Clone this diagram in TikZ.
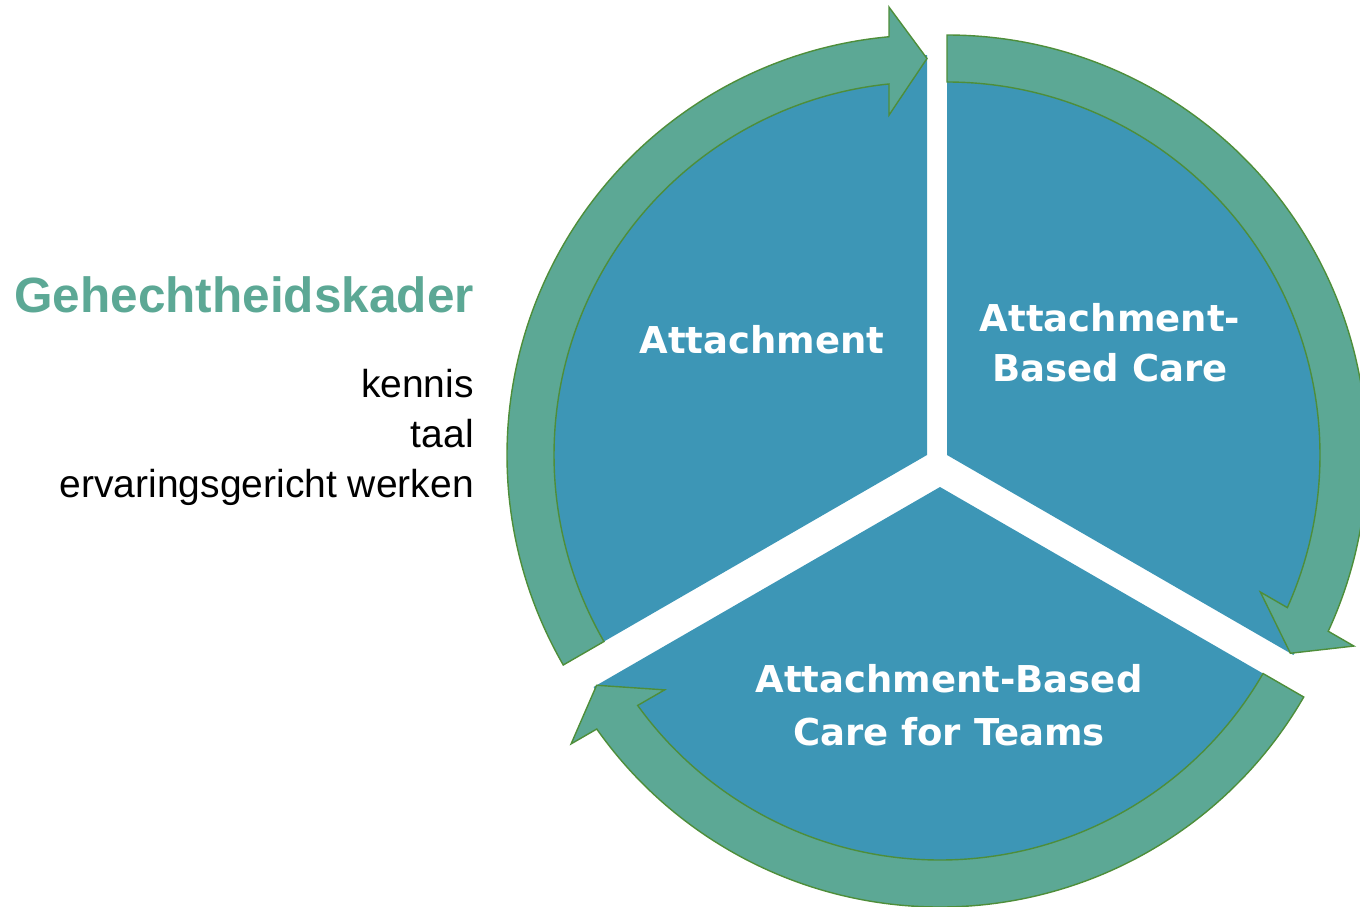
\documentclass[tikz,border=0pt]{standalone}
\usepackage{fontspec}
\setmainfont{Liberation Sans}
\newfontfamily\wedgelabelfont{DejaVu Sans}
\definecolor{wedgeblue}{RGB}{61,150,182}
\definecolor{ringgreen}{RGB}{92,168,149}
\definecolor{ringline}{RGB}{78,142,58}
\definecolor{titlegreen}{RGB}{92,168,149}
\tikzset{
  wedge/.style={fill=wedgeblue, draw=none},
  ringarrow/.style={fill=ringgreen, draw=ringline, line width=1.4pt, line join=miter},
  wlabel/.style={text=white, font=\wedgelabelfont\bfseries\fontsize{37}{44}\selectfont, inner sep=0pt, anchor=base},
  titletext/.style={text=titlegreen, font=\bfseries\fontsize{49.5}{56}\selectfont, inner sep=0pt, anchor=base east},
  subtext/.style={text=black, font=\fontsize{39}{46}\selectfont, inner sep=0pt, anchor=base east},
  grpA/.style={shift={(927,-455)}, rotate=0},
  grpB/.style={shift={(947,-455)}, rotate=-120},
  grpC/.style={shift={(940,-487)}, rotate=120},
  pics/sector/.style={code={
    \fill[wedge] (0pt,0pt) -- (90:400pt) arc[start angle=90, end angle=210, radius=400pt] -- cycle;
  }},
  pics/cyclearrow/.style={code={
    \draw[ringarrow] (210:420pt) arc[start angle=210, end angle=95.19, radius=420pt]
      -- (-38pt,447.9pt) -- (0pt,396.5pt) -- (-38pt,339.9pt)
      -- (95.85:373pt) arc[start angle=95.85, end angle=210, radius=373pt] -- cycle;
  }}
}
\begin{document}
\begin{tikzpicture}[x=1pt, y=1pt]
  \useasboundingbox (0,0) rectangle (1360,-906);
  % wedges
  \pic[grpA] (wA) {sector};
  \pic[grpB] (wB) {sector};
  \pic[grpC] (wC) {sector};
  % ring arrows
  \pic[grpA] (rA) {cyclearrow};
  \pic[grpB] (rB) {cyclearrow};
  \pic[grpC] (rC) {cyclearrow};
  % wedge labels
  \node[wlabel] (labA) at (762,-353) {Attachment};
  \node[wlabel] (labB1) at (1110,-331) {Attachment-};
  \node[wlabel] (labB2) at (1110,-381) {Based Care};
  \node[wlabel] (labC1) at (949,-692) {Attachment-Based};
  \node[wlabel] (labC2) at (949,-745) {Care for Teams};
  % left text
  \node[titletext] (title) at (474,-312) {Gehechtheidskader};
  \node[subtext] (s1) at (474,-397) {kennis};
  \node[subtext] (s2) at (474,-447) {taal};
  \node[subtext] (s3) at (474,-497) {ervaringsgericht werken};
\end{tikzpicture}
\end{document}
